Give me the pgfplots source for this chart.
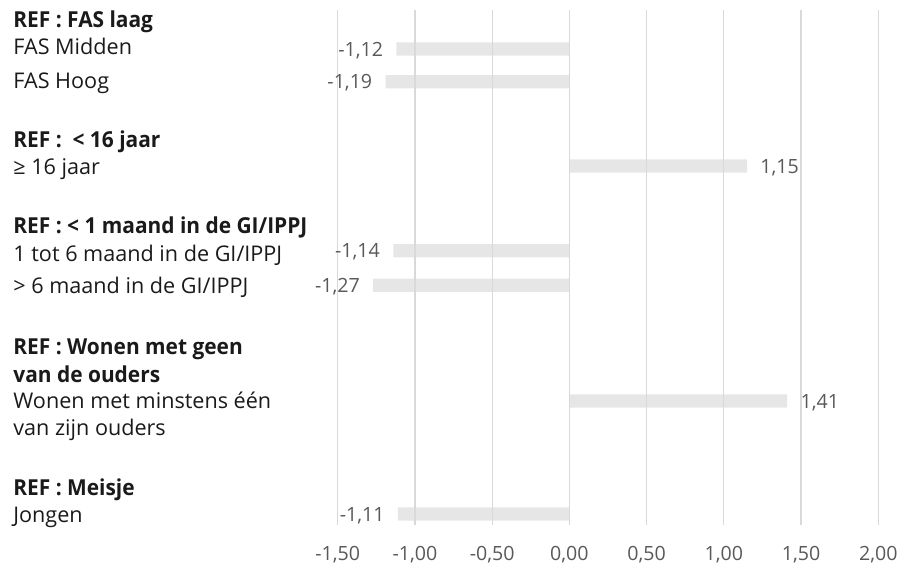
\documentclass[border=0pt]{standalone}
\usepackage{fontspec}
\setmainfont{Open Sans}
\newfontfamily\boldcond{Open Sans}[FakeStretch=0.95]
\usepackage{pgfplots}
\pgfplotsset{compat=1.18}
\definecolor{barcol}{HTML}{E6E6E6}
\definecolor{gridcol}{HTML}{D9D9D9}
\definecolor{valcol}{HTML}{595959}
\definecolor{labcol}{HTML}{1A1A1A}
\newcommand\lab{\fontsize{10.8pt}{12pt}\selectfont}
\newcommand\reflab{\boldcond\bfseries\fontsize{11pt}{12pt}\selectfont}
\newcommand\val{\fontsize{9.8pt}{10pt}\selectfont}
\begin{document}
\begin{tikzpicture}
\path[use as bounding box] (0,0) rectangle (450.5pt,-282pt);
\begin{axis}[
  at={(168.85pt,-262.5pt)}, anchor=south west,
  scale only axis, width=270.3pt, height=257.75pt,
  xmin=-1.5, xmax=2, ymin=9.5, ymax=525, y dir=reverse,
  xbar, bar width=6.65pt,
  axis line style={draw=none},
  ytick=\empty,
  xtick={-1.5,-1,-0.5,0,0.5,1,1.5,2},
  major tick length=0pt,
  xmajorgrids, grid style={draw=gridcol, line width=0.65pt},
  axis on top,
  clip=false,
  /pgf/number format/.cd, use comma, fixed, fixed zerofill, precision=2, assume math mode=true,
  /pgfplots/.cd,
  xticklabel style={font=\val, text=valcol, anchor=base, yshift=-17.5pt},
  nodes near coords={\pgfmathprintnumber{\pgfplotspointmeta}},
  nodes near coords style={font=\val, text=valcol, inner xsep=6.5pt, inner ysep=0pt, text depth=0pt},
]
\addplot[fill=barcol, draw=none] coordinates {
  (-1.12,49) (-1.19,81.7) (1.15,166) (-1.14,250.7) (-1.27,285.3) (1.41,401) (-1.11,514)
};
\end{axis}
\begin{scope}[every node/.style={anchor=base west, inner sep=0pt, text=labcol, font=\lab}]
\node at (6.5pt,-13.5pt) {\reflab REF : FAS laag};
\node at (6.5pt,-27pt) {FAS Midden};
\node at (6.5pt,-44pt) {FAS Hoog};
\node at (6.5pt,-73.5pt) {\reflab REF :\ \ < 16 jaar};
\node at (6.5pt,-87pt) {≥ 16 jaar};
\node at (6.5pt,-116.5pt) {\reflab REF : < 1 maand in de GI/IPPJ};
\node at (6.5pt,-130.5pt) {1 tot 6 maand in de GI/IPPJ};
\node at (6.5pt,-146.5pt) {> 6 maand in de GI/IPPJ};
\node at (6.5pt,-177pt) {\reflab REF : Wonen met geen};
\node at (6.5pt,-191pt) {\reflab van de ouders};
\node at (6.5pt,-204pt) {Wonen met minstens één};
\node at (6.5pt,-217.5pt) {van zijn ouders};
\node at (6.5pt,-247.5pt) {\reflab REF : Meisje};
\node at (6.5pt,-261pt) {Jongen};
\end{scope}
\end{tikzpicture}
\end{document}
